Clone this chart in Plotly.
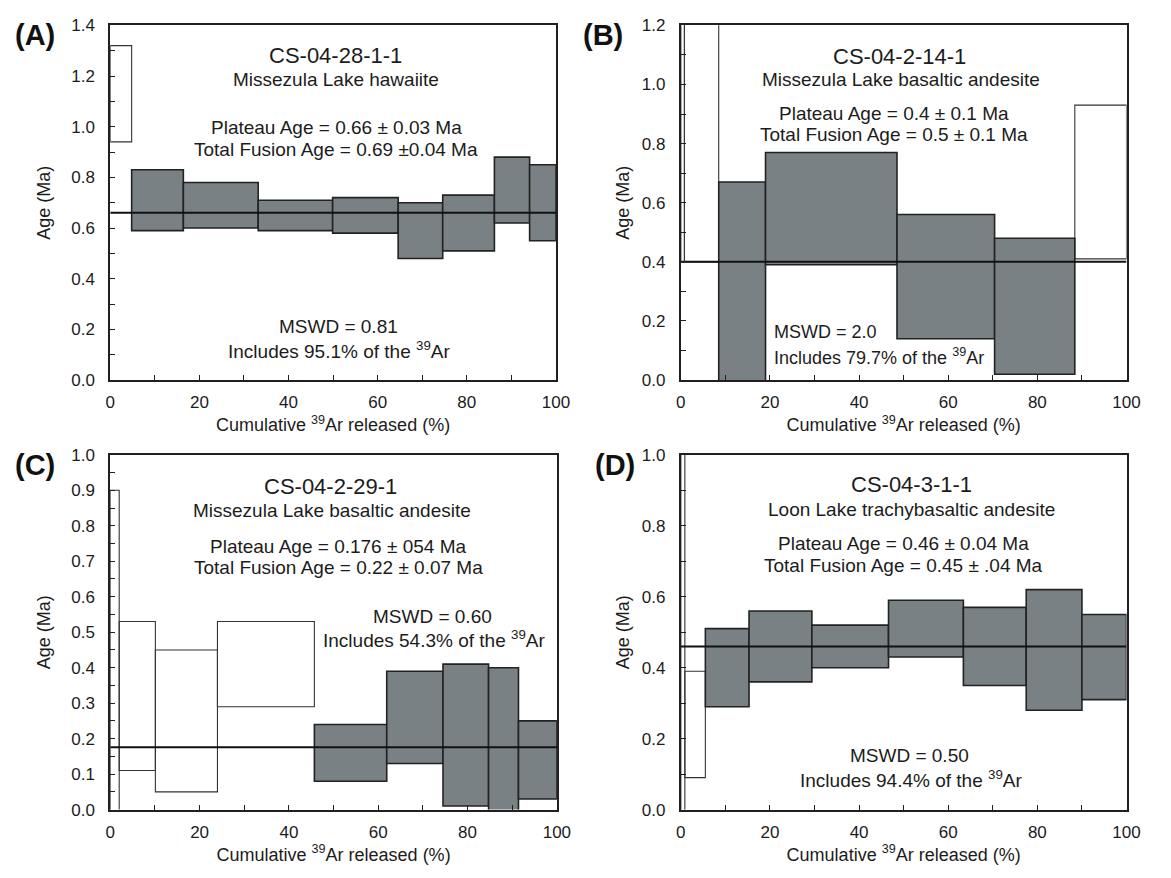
import plotly.graph_objects as go

# ---------------- data ----------------
# Panel A: CS-04-28-1-1
A_edges = [0, 4.8, 16.4, 33.2, 49.9, 64.6, 74.6, 86.2, 94.1, 100]
A_hi = [1.32, 0.83, 0.78, 0.71, 0.72, 0.70, 0.73, 0.88, 0.85]
A_lo = [0.94, 0.59, 0.60, 0.59, 0.58, 0.48, 0.51, 0.62, 0.55]
A_in = [False, True, True, True, True, True, True, True, True]
A_plateau = 0.66

# Panel B: CS-04-2-14-1
B_edges = [0, 0.8, 8.5, 19.0, 48.5, 70.4, 88.4, 100]
B_hi = [1.60, 1.60, 0.67, 0.77, 0.56, 0.48, 0.93]
B_lo = [0.40, 0.40, -0.10, 0.39, 0.14, 0.02, 0.41]
B_in = [False, False, True, True, True, True, False]
B_plateau = 0.40

# Panel C: CS-04-2-29-1
C_edges = [0, 2.0, 10.1, 24.0, 45.7, 61.9, 74.5, 84.7, 91.4, 100]
C_hi = [0.90, 0.53, 0.45, 0.53, 0.24, 0.39, 0.41, 0.40, 0.25]
C_lo = [-0.10, 0.11, 0.05, 0.29, 0.08, 0.13, 0.01, -0.05, 0.03]
C_in = [False, False, False, False, True, True, True, True, True]
C_plateau = 0.176

# Panel D: CS-04-3-1-1
D_edges = [0, 0.9, 5.5, 15.3, 29.4, 46.6, 63.4, 77.5, 90.0, 100]
D_hi = [1.20, 0.39, 0.51, 0.56, 0.52, 0.59, 0.57, 0.62, 0.55]
D_lo = [-0.10, 0.09, 0.29, 0.36, 0.40, 0.43, 0.35, 0.28, 0.31]
D_in = [False, False, True, True, True, True, True, True, True]
D_plateau = 0.46

panel_letters = ["(A)", "(B)", "(C)", "(D)"]
sample_ids = ["CS-04-28-1-1", "CS-04-2-14-1", "CS-04-2-29-1", "CS-04-3-1-1"]
rock_names = ["Missezula Lake hawaiite", "Missezula Lake basaltic andesite",
              "Missezula Lake basaltic andesite", "Loon Lake trachybasaltic andesite"]
plateau_txt = ["Plateau Age = 0.66 \u00b1 0.03 Ma", "Plateau Age = 0.4 \u00b1 0.1 Ma",
               "Plateau Age = 0.176 \u00b1 054 Ma", "Plateau Age = 0.46 \u00b1 0.04 Ma"]
fusion_txt = ["Total Fusion Age = 0.69 \u00b10.04 Ma", "Total Fusion Age = 0.5 \u00b1 0.1 Ma",
              "Total Fusion Age = 0.22 \u00b1 0.07 Ma", "Total Fusion Age = 0.45 \u00b1 .04 Ma"]
mswd_txt = ["MSWD = 0.81", "MSWD = 2.0", "MSWD = 0.60", "MSWD = 0.50"]
incl_pct = ["95.1", "79.7", "54.3", "94.4"]

y_max = [1.4, 1.2, 1.0, 1.0]
y_dtick = [0.2, 0.2, 0.1, 0.2]
y_minor = [0.1, 0.1, 0.05, 0.1]

# ---------------- layout / style ----------------
FONT = "Liberation Sans, Arial, Helvetica, sans-serif"
TXT = "#1c1c1c"
FILL = "#7a8184"
EDGE = "#222222"
HOLLOW_EDGE = "#333333"
AXC = "#231f20"

W, H = 1171, 878
px_x = [(107, 560), (687, 1140), (107, 561), (687, 1140)]
px_y = [(16.7, 379.3), (16.7, 379.3), (455.7, 818.3), (455.7, 818.3)]

# text placement in data coords per panel
title_pos = [(50.6, 1.282), (49.1, 1.095), (49.4, 0.91), (51.8, 0.915)]
rock_pos = [(50.6, 1.188), (49.5, 1.016), (49.6, 0.844), (51.8, 0.847)]
plat_pos = [(50.7, 0.995), (47.8, 0.902), (51.0, 0.743), (49.9, 0.749)]
fus_pos = [(50.7, 0.909), (47.8, 0.830), (51.2, 0.682), (50.0, 0.6875)]
mswd_pos = [(51.3, 0.21), (20.4, 0.163), (72.2, 0.545), (51.4, 0.152)]
incl_pos = [(51.3, 0.12), (20.4, 0.081), (72.4, 0.481), (51.6, 0.087)]
mswd_anchor = ["center", "left", "center", "center"]
mswd_size = [19, 18, 19, 19]
letter_px = [(30, 27), (608, 27), (30, 466), (620, 466)]
ytitle_standoff = [16, 8, 16, 8]

panels = [
    (A_edges, A_hi, A_lo, A_in, A_plateau),
    (B_edges, B_hi, B_lo, B_in, B_plateau),
    (C_edges, C_hi, C_lo, C_in, C_plateau),
    (D_edges, D_hi, D_lo, D_in, D_plateau),
]

fig = go.Figure()
annotations = []

for i, (edges, hi, lo, inc, plat) in enumerate(panels):
    xa = "x" if i == 0 else f"x{i+1}"
    ya = "y" if i == 0 else f"y{i+1}"
    for filled in (False, True):
        xs, ws, bs, hs = [], [], [], []
        for k in range(len(hi)):
            if inc[k] != filled:
                continue
            xs.append((edges[k] + edges[k + 1]) / 2)
            ws.append(edges[k + 1] - edges[k])
            bs.append(lo[k])
            hs.append(hi[k] - lo[k])
        if not xs:
            continue
        fig.add_trace(go.Bar(
            x=xs, y=hs, base=bs, width=ws, xaxis=xa, yaxis=ya,
            marker=dict(color=FILL if filled else "rgba(255,255,255,0)",
                        line=dict(color=EDGE if filled else HOLLOW_EDGE,
                                  width=1.6 if filled else 1.1)),
            showlegend=False, hoverinfo="skip"))
    fig.add_trace(go.Scatter(
        x=[edges[0], edges[-1]], y=[plat, plat], mode="lines",
        line=dict(color="#111111", width=2), xaxis=xa, yaxis=ya,
        showlegend=False, hoverinfo="skip"))

    def ann(text, pos, size, anchor="center"):
        annotations.append(dict(
            text=text, x=pos[0], y=pos[1], xref=xa, yref=ya,
            xanchor=anchor, yanchor="middle", showarrow=False,
            font=dict(family=FONT, size=size, color=TXT)))

    ann(sample_ids[i], title_pos[i], 22)
    ann(rock_names[i], rock_pos[i], 19)
    ann(plateau_txt[i], plat_pos[i], 19)
    ann(fusion_txt[i], fus_pos[i], 19)
    ann(mswd_txt[i], mswd_pos[i], mswd_size[i], mswd_anchor[i])
    ann(f"Includes {incl_pct[i]}% of the <sup>39</sup>Ar", incl_pos[i], mswd_size[i], mswd_anchor[i])

    annotations.append(dict(
        text=f"<b>{panel_letters[i]}</b>", x=letter_px[i][0] / W, y=1 - letter_px[i][1] / H,
        xref="paper", yref="paper", xanchor="center", yanchor="middle", showarrow=False,
        font=dict(family=FONT, size=29, color="#111111")))

    x0, x1 = px_x[i]
    yt, yb = px_y[i]
    axis_common = dict(showline=True, linecolor=AXC, linewidth=2, mirror=True,
                       ticks="inside", ticklen=5, tickwidth=1, tickcolor=AXC,
                       showgrid=False, zeroline=False,
                       tickfont=dict(family=FONT, size=17, color=TXT))
    xkey = "xaxis" if i == 0 else f"xaxis{i+1}"
    ykey = "yaxis" if i == 0 else f"yaxis{i+1}"
    fig.update_layout(**{
        xkey: dict(axis_common, domain=[x0 / W, x1 / W], anchor=ya, range=[0, 100],
                   tick0=0, dtick=20, ticklabelstandoff=6,
                   minor=dict(dtick=10, ticks="inside", ticklen=5, tickcolor=AXC),
                   title=dict(text="Cumulative <sup>39</sup>Ar released (%)", standoff=7,
                              font=dict(family=FONT, size=18, color=TXT))),
        ykey: dict(axis_common, domain=[1 - yb / H, 1 - yt / H], anchor=xa,
                   range=[0, y_max[i]], tick0=0, dtick=y_dtick[i], tickformat=".1f",
                   ticklabelstandoff=10,
                   minor=dict(dtick=y_minor[i], ticks="inside", ticklen=5, tickcolor=AXC),
                   title=dict(text="Age (Ma)", standoff=ytitle_standoff[i],
                              font=dict(family=FONT, size=18, color=TXT))),
    })

fig.update_layout(
    width=W, height=H, autosize=False,
    margin=dict(l=0, r=0, t=0, b=0),
    paper_bgcolor="white", plot_bgcolor="white",
    barmode="overlay", annotations=annotations,
    font=dict(family=FONT, color=TXT),
)

fig.write_html("out.html")
